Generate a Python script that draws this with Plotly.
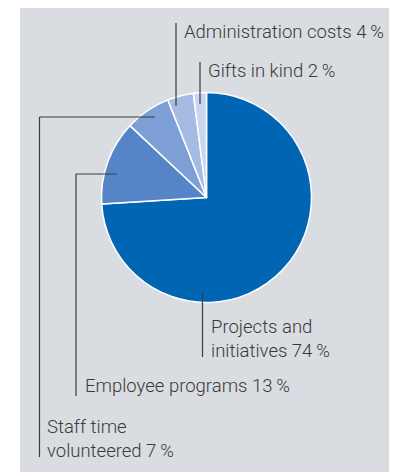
import plotly.graph_objects as go

W, H = 397, 472
OFF = 8  # page body margin offset

labels = ["Projects and initiatives", "Employee programs", "Staff time volunteered",
          "Administration costs", "Gifts in kind"]
values = [74, 13, 7, 4, 2]
label_texts = ["Projects and<br>initiatives 74\u2009%", "Employee programs 13\u2009%",
               "Staff time<br>volunteered 7\u2009%", "Administration costs 4\u2009%",
               "Gifts in kind 2\u2009%"]
colors = ["#0066b3", "#5585c6", "#7d9fd6", "#a5bbe3", "#c8d6ef"]

def px(x):
    return (x - OFF) / W

def py(y):
    return 1 - (y - OFF) / H

cx, cy, r = 206.5, 197.5, 105

fig = go.Figure(go.Pie(
    labels=labels, values=values, sort=False, direction="clockwise", rotation=0,
    marker=dict(colors=colors, line=dict(color="white", width=1.5)),
    textinfo="none", hoverinfo="label+percent", showlegend=False,
    domain=dict(x=[px(cx - r), px(cx + r)], y=[py(cy + r), py(cy - r)]),
))

line_col = "#3c3c3c"
shapes = [dict(type="rect", xref="paper", yref="paper", x0=px(20), x1=px(393),
               y0=py(485), y1=py(6), fillcolor="#d9dce0", line=dict(width=0), layer="below")]

def seg(x0, y0, x1, y1):
    shapes.append(dict(type="line", xref="paper", yref="paper", x0=px(x0), y0=py(y0),
                       x1=px(x1), y1=py(y1), line=dict(color=line_col, width=1.2)))

# leader lines
seg(202.5, 292, 202.5, 357)          # projects
seg(117, 174, 76, 174); seg(76, 174, 76, 396)   # employee
seg(155, 117, 39.5, 117); seg(39.5, 117, 39.5, 457)  # staff
seg(176, 106, 176, 23)               # admin
seg(200, 104, 200, 62)               # gifts

ann_pos = [(209, 339), (83, 386), (45, 439), (182, 32), (206, 71)]
annotations = []
for t, (x, y) in zip(label_texts, ann_pos):
    annotations.append(dict(text=t, x=px(x), y=py(y), xref="paper", yref="paper",
                            xanchor="left", yanchor="middle", showarrow=False, align="left",
                            font=dict(family="Roboto", size=18.5, color="#3a3a3a", weight=300)))

fig.update_layout(width=W, height=H, margin=dict(l=0, r=0, t=0, b=0),
                  paper_bgcolor="white", plot_bgcolor="white",
                  shapes=shapes, annotations=annotations)

fig.write_html("out.html")
